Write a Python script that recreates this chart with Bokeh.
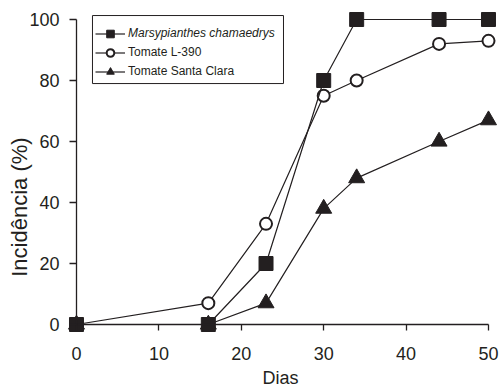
import math
from bokeh.plotting import figure
from bokeh.models import Range1d, LinearAxis, FixedTicker, Legend, LegendItem, Label, BoxAnnotation
from bokeh.embed import file_html
from bokeh.resources import INLINE

# ---- data ----
dias = [0, 16, 23, 30, 34, 44, 50]
marsypianthes = [0, 0, 20, 80, 100, 100, 100]
tomate_l390 = [0, 7, 33, 75, 80, 92, 93]
tomate_santa_clara = [0, 0, 7, 38, 48, 60, 67]
x_ticks = [0, 10, 20, 30, 40, 50]
y_ticks = [0, 20, 40, 60, 80, 100]
labels = ["Marsypianthes chamaedrys", "Tomate L-390", "Tomate Santa Clara"]

INK = "#231f20"
FONT = "Liberation Sans"

p = figure(width=501, height=389,
           x_range=Range1d(-9.223, 51.578), y_range=Range1d(-21.311, 106.23),
           output_backend="svg", toolbar_location=None,
           x_axis_type=None, y_axis_type=None,
           min_border_left=0, min_border_right=0, min_border_top=0, min_border_bottom=0)
p.grid.visible = False
p.outline_line_color = None
p.background_fill_color = "white"

def style_axis(ax, tick_out, standoff):
    ax.fixed_location = 0
    ax.axis_line_color = INK
    ax.axis_line_width = 1.3
    ax.major_tick_line_color = INK
    ax.major_tick_line_width = 1.3
    ax.major_tick_in = 0
    ax.major_tick_out = tick_out
    ax.minor_tick_line_color = None
    ax.major_label_text_font = FONT
    ax.major_label_text_font_size = "18px"
    ax.major_label_text_color = INK
    ax.major_label_standoff = standoff

xaxis = LinearAxis(ticker=FixedTicker(ticks=x_ticks), bounds=(x_ticks[0], x_ticks[-1]))
style_axis(xaxis, 6, 16)
p.add_layout(xaxis, "below")
yaxis = LinearAxis(ticker=FixedTicker(ticks=y_ticks), bounds=(y_ticks[0], y_ticks[-1]))
style_axis(yaxis, 7, 10)
p.add_layout(yaxis, "left")

# series: triangle, circle, square (square on top)
l3 = p.line(dias, tomate_santa_clara, line_color=INK, line_width=1.2)
m3 = p.scatter(dias, tomate_santa_clara, marker="triangle", size=16, fill_color=INK, line_color=INK, line_width=1)
l2 = p.line(dias, tomate_l390, line_color=INK, line_width=1.2)
m2 = p.scatter(dias, tomate_l390, marker="circle", size=12, fill_color="white", line_color=INK, line_width=2)
l1 = p.line(dias, marsypianthes, line_color=INK, line_width=1.2)
m1 = p.scatter(dias, marsypianthes, marker="square", size=14, fill_color=INK, line_color=INK, line_width=1)

# legend frame
box = BoxAnnotation(left=1.94, right=25.12, top=101.3, bottom=79.0,
                    fill_color="white", fill_alpha=1, line_color=INK, line_alpha=1,
                    line_width=1, line_dash="solid")
p.add_layout(box)

def make_legend(items, loc, style):
    lg = Legend(items=items, location=loc, border_line_color=None, background_fill_alpha=0,
                padding=0, spacing=0, margin=0, glyph_width=30, glyph_height=19,
                label_height=19, label_standoff=3, label_text_font=FONT,
                label_text_font_size="12px", label_text_color=INK, label_text_font_style=style)
    return lg

leg1 = make_legend([LegendItem(label=labels[0], renderers=[l1, m1])], (95, 346.5), "italic")
leg2 = make_legend([LegendItem(label=labels[1], renderers=[l2, m2]),
                    LegendItem(label=labels[2], renderers=[l3, m3])], (95, 308.5), "normal")
p.add_layout(leg1, "center")
p.add_layout(leg2, "center")

# axis titles
p.add_layout(Label(x=24.76, y=-14.2, text="Dias", text_align="center", text_baseline="top",
                   text_font=FONT, text_font_size="18px", text_color=INK))
p.add_layout(Label(x=-6.9, y=38.5, text="Incidência (%)", angle=math.pi / 2,
                   text_align="center", text_baseline="middle",
                   text_font=FONT, text_font_size="22px", text_color=INK))

open("out.html", "w").write(file_html(p, INLINE))
